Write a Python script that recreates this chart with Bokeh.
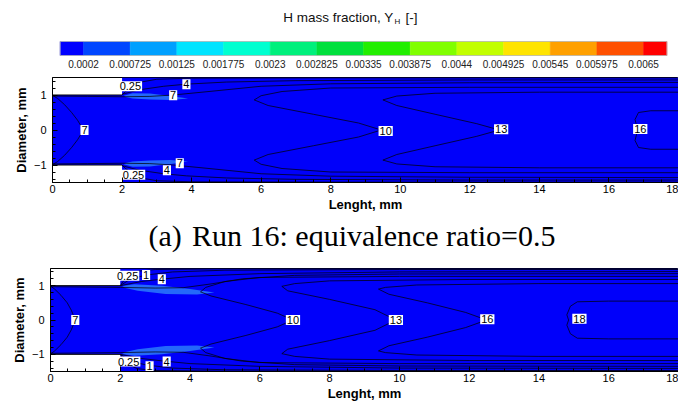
from bokeh.plotting import figure
from bokeh.layouts import column
from bokeh.models import Range1d, SingleIntervalTicker
from bokeh.embed import file_html
from bokeh.resources import INLINE
from bokeh.core.properties import value

# ---------------- data ----------------
cb_levels = [0.0002, 0.000725, 0.00125, 0.001775, 0.0023, 0.002825, 0.00335,
             0.003875, 0.0044, 0.004925, 0.00545, 0.005975, 0.0065]
cb_labels = ["0.0002", "0.000725", "0.00125", "0.001775", "0.0023", "0.002825",
             "0.00335", "0.003875", "0.0044", "0.004925", "0.00545", "0.005975", "0.0065"]
cb_colors = ["#0000FF", "#0046FF", "#00A0FF", "#00E4FF", "#00FFD0", "#00F07C",
             "#00E03C", "#22EE00", "#80FF00", "#C2FF00", "#FFE400", "#FFA000",
             "#FF5000", "#FF0000"]

length_mm = 18.0
inlet_len = 2.0
inlet_half = 1.0
outlet_half = 1.5

field_color = "#0000FA"
streak_color = "#2468FA"

# --- panel (a) Run 16 : contour lines (upper half, mm) ---
a_c7in_x = [0.0, 0.15, 0.35, 0.55, 0.72, 0.83, 0.88]
a_c7in_y = [0.99, 0.9, 0.72, 0.5, 0.28, 0.1, 0.0]
a_c025_x = [2.0, 2.1, 2.3, 2.6, 3.0, 4.0, 8.0, 18.0]
a_c025_y = [1.0, 1.1, 1.25, 1.38, 1.45, 1.48, 1.49, 1.49]
a_c4_x = [2.0, 2.5, 3.2, 3.85, 5.0, 7.0, 12.0, 18.0]
a_c4_y = [1.02, 1.15, 1.25, 1.31, 1.37, 1.41, 1.43, 1.43]
a_c7w_x = [0.0, 1.0, 2.0, 2.8, 3.47, 4.5, 6.0, 8.0, 12.0, 18.0]
a_c7w_y = [0.97, 0.96, 0.95, 0.96, 1.0, 1.1, 1.25, 1.32, 1.35, 1.36]
a_c10_x = [18.0, 12.0, 8.0, 6.6, 6.0, 5.8, 6.2, 7.5, 8.8, 9.45]
a_c10_y = [1.22, 1.22, 1.2, 1.1, 0.98, 0.86, 0.7, 0.45, 0.2, 0.0]
a_c13_x = [18.0, 14.0, 11.0, 9.9, 9.5, 9.9, 11.0, 12.2, 12.85]
a_c13_y = [1.08, 1.08, 1.05, 0.97, 0.86, 0.7, 0.45, 0.18, 0.0]
a_c16_x = [18.0, 17.2, 16.85, 16.75, 16.8, 16.9]
a_c16_y = [0.55, 0.55, 0.5, 0.3, 0.1, 0.0]
a_streak_x = [2.05, 2.3, 2.8, 3.4, 3.9, 3.4, 2.8, 2.3, 2.1]
a_streak_y = [0.98, 1.05, 1.04, 0.97, 0.9, 0.86, 0.87, 0.9, 0.94]
a_lab_text = ["0.25", "4", "7", "0.25", "4", "7", "7", "10", "13", "16"]
a_lab_x = [2.24, 3.85, 3.47, 2.33, 3.29, 3.66, 0.92, 9.58, 12.9, 16.9]
a_lab_y = [1.25, 1.31, 0.99, -1.28, -1.15, -0.95, 0.0, -0.03, 0.02, 0.03]

# --- panel (b) : contour lines (upper half, mm) ---
b_c7in_x = [0.0, 0.12, 0.3, 0.48, 0.6, 0.67, 0.7]
b_c7in_y = [0.99, 0.9, 0.72, 0.5, 0.28, 0.1, 0.0]
b_c025_x = [2.0, 2.1, 2.2, 2.5, 3.0, 5.0, 18.0]
b_c025_y = [1.0, 1.15, 1.29, 1.42, 1.47, 1.49, 1.49]
b_c1_x = [2.0, 2.3, 2.74, 3.5, 5.0, 10.0, 18.0]
b_c1_y = [1.0, 1.2, 1.31, 1.4, 1.45, 1.47, 1.47]
b_c4_x = [2.0, 2.6, 3.19, 4.0, 6.0, 10.0, 18.0]
b_c4_y = [1.0, 1.12, 1.19, 1.27, 1.35, 1.4, 1.41]
b_c7w_x = [0.0, 1.0, 2.0, 3.0, 3.8, 4.6, 5.5, 7.0, 10.0, 18.0]
b_c7w_y = [0.97, 0.96, 0.95, 0.93, 0.94, 1.05, 1.2, 1.3, 1.34, 1.35]
b_c10_x = [18.0, 10.0, 6.0, 5.0, 4.45, 4.3, 4.6, 5.6, 6.5, 6.95]
b_c10_y = [1.27, 1.27, 1.24, 1.12, 0.95, 0.82, 0.7, 0.45, 0.2, 0.0]
b_c13_x = [18.0, 12.0, 8.0, 7.0, 6.63, 6.8, 8.0, 9.3, 9.9]
b_c13_y = [1.18, 1.18, 1.14, 1.06, 0.98, 0.85, 0.6, 0.3, 0.0]
b_c16_x = [18.0, 14.0, 10.5, 9.6, 9.4, 9.7, 10.8, 11.9, 12.5]
b_c16_y = [1.06, 1.06, 1.02, 0.95, 0.9, 0.75, 0.5, 0.22, 0.0]
b_c18_x = [18.0, 16.0, 15.1, 14.9, 14.8, 14.85]
b_c18_y = [0.55, 0.55, 0.53, 0.4, 0.15, 0.0]
b_streak_x = [2.05, 2.4, 3.2, 4.0, 4.7, 4.2, 3.3, 2.5, 2.15]
b_streak_y = [0.99, 1.04, 1.0, 0.9, 0.8, 0.74, 0.76, 0.85, 0.93]
b_lab_text = ["0.25", "1", "4", "0.25", "1", "4", "7", "10", "13", "16", "18"]
b_lab_x = [2.21, 2.74, 3.19, 2.24, 2.84, 3.33, 0.71, 6.95, 9.9, 12.52, 15.16]
b_lab_y = [1.29, 1.31, 1.19, -1.21, -1.35, -1.21, 0.0, 0.0, 0.0, 0.02, 0.04]

caption_tag = "(a)"
caption = "Run 16: equivalence ratio=0.5"
x_title = "Lenght, mm"
y_title = "Diameter, mm"

SANS = "Liberation Sans"
SERIF = "Liberation Serif"
W = 678


def bare(h, xr, yr):
    f = figure(width=W, height=h, x_range=xr, y_range=yr, toolbar_location=None,
               output_backend="svg", min_border=0, frame_align=False,
               x_axis_location=None, y_axis_location=None)
    f.grid.visible = False
    f.outline_line_color = None
    return f


# ---------------- colorbar ----------------
step = cb_levels[1] - cb_levels[0]
px_per_unit = 46.67 / step
x0 = cb_levels[0] - 83.0 / px_per_unit
x1 = x0 + W / px_per_unit
left_edges = [cb_levels[0] - step / 2] + cb_levels
right_edges = cb_levels + [cb_levels[-1] + step / 2]

cb = bare(72, Range1d(x0, x1), Range1d(72, 0))
cb.quad(left=left_edges, right=right_edges, top=41, bottom=55,
        fill_color=cb_colors, line_color=cb_colors, line_width=0.5)
cb.quad(left=[left_edges[0]], right=[right_edges[-1]], top=41, bottom=55,
        fill_color=None, line_color="#B8B8B8", line_width=0.8)
cb.text(x=cb_levels, y=[63] * len(cb_levels), text=cb_labels,
        text_font=value(SANS), text_font_size="10px", text_align="center",
        text_baseline="middle", text_color="#222222")
xc = x0 + 365 / px_per_unit
cb.text(x=[xc], y=[17], text=["H mass fraction, Y"], text_font=value(SANS),
        text_font_size="13.5px", text_align="right", text_baseline="middle",
        x_offset=[28], text_color="#111111")
cb.text(x=[xc], y=[21], text=["H"], text_font=value(SANS),
        text_font_size="8px", text_align="left", text_baseline="middle",
        x_offset=[29], text_color="#111111")
cb.text(x=[xc], y=[17], text=["[-]"], text_font=value(SANS),
        text_font_size="13.5px", text_align="left", text_baseline="middle",
        x_offset=[40], text_color="#111111")


def mirror_through(xs, ys):
    fx = list(xs) + list(xs[::-1][1:])
    fy = list(ys) + [-v for v in ys[::-1][1:]]
    return fx, fy


def panel(h, left, top, bottom, through, wall, streak, labels):
    p = figure(width=W, height=h, x_range=Range1d(0, length_mm),
               y_range=Range1d(-outlet_half, outlet_half),
               toolbar_location=None, output_backend="svg", frame_align=False,
               min_border_left=left, min_border_right=0,
               min_border_top=top, min_border_bottom=bottom)
    p.grid.visible = False
    p.outline_line_color = "black"
    p.outline_line_width = 1
    p.background_fill_color = "white"
    dx = [0, 0, inlet_len, inlet_len, length_mm, length_mm, inlet_len, inlet_len]
    dy = [-inlet_half, inlet_half, inlet_half, outlet_half, outlet_half,
          -outlet_half, -outlet_half, -inlet_half]
    p.patch(dx, dy, fill_color=field_color, line_color=None)
    sx, sy = streak
    p.patch(sx, sy, fill_color=streak_color, line_color=None)
    p.patch(sx, [-v for v in sy], fill_color=streak_color, line_color=None)
    p.line([0, inlet_len], [inlet_half, inlet_half], line_color="black", line_width=1)
    p.line([0, inlet_len], [-inlet_half, -inlet_half], line_color="black", line_width=1)
    for xs, ys in through:
        fx, fy = mirror_through(xs, ys)
        p.line(fx, fy, line_color="black", line_width=0.8, line_alpha=0.9)
    for xs, ys in wall:
        p.line(xs, ys, line_color="black", line_width=0.8, line_alpha=0.9)
        p.line(xs, [-v for v in ys], line_color="black", line_width=0.8, line_alpha=0.9)
    lt, lx, ly = labels
    p.text(x=lx, y=ly, text=lt, text_font=value(SANS), text_font_size="11px",
           text_align="center", text_baseline="middle", text_color="black",
           background_fill_color="white", padding=1)
    p.xaxis.ticker = SingleIntervalTicker(interval=2, num_minor_ticks=4)
    p.yaxis.ticker = SingleIntervalTicker(interval=1, num_minor_ticks=5)
    for ax in (p.xaxis[0], p.yaxis[0]):
        ax.major_tick_in = 5
        ax.major_tick_out = 0
        ax.minor_tick_in = 3
        ax.minor_tick_out = 0
        ax.major_tick_line_color = "black"
        ax.minor_tick_line_color = "black"
        ax.axis_line_color = "black"
        ax.major_label_text_font = SANS
        ax.major_label_text_font_size = "11px"
        ax.major_label_text_color = "black"
        ax.axis_label_text_font = SANS
        ax.axis_label_text_font_size = "13px"
        ax.axis_label_text_font_style = "bold"
        ax.axis_label_text_color = "black"
    p.xaxis.axis_label = x_title
    p.yaxis.axis_label = y_title
    p.xaxis.major_label_standoff = 2
    p.xaxis.axis_label_standoff = 1
    p.yaxis.major_label_standoff = 6
    p.yaxis.axis_label_standoff = 2
    return p


pa = panel(146, 52, 5, 36,
           [(a_c7in_x, a_c7in_y), (a_c10_x, a_c10_y), (a_c13_x, a_c13_y), (a_c16_x, a_c16_y)],
           [(a_c025_x, a_c025_y), (a_c4_x, a_c4_y), (a_c7w_x, a_c7w_y)],
           (a_streak_x, a_streak_y),
           (a_lab_text, a_lab_x, a_lab_y))

cap = bare(44, Range1d(0, W), Range1d(44, 0))
cap.text(x=[148], y=[17], text=[caption_tag], text_font=value(SERIF),
         text_font_size="30px", text_align="left", text_baseline="middle",
         text_color="black")
cap.text(x=[555], y=[17], text=[caption], text_font=value(SERIF),
         text_font_size="30px", text_align="right", text_baseline="middle",
         text_color="black")

pb = panel(141, 50, 6, 30,
           [(b_c7in_x, b_c7in_y), (b_c10_x, b_c10_y), (b_c13_x, b_c13_y),
            (b_c16_x, b_c16_y), (b_c18_x, b_c18_y)],
           [(b_c025_x, b_c025_y), (b_c1_x, b_c1_y), (b_c4_x, b_c4_y), (b_c7w_x, b_c7w_y)],
           (b_streak_x, b_streak_y),
           (b_lab_text, b_lab_x, b_lab_y))

layout = column(cb, pa, cap, pb, spacing=0)
open("out.html", "w").write(file_html(layout, INLINE))
